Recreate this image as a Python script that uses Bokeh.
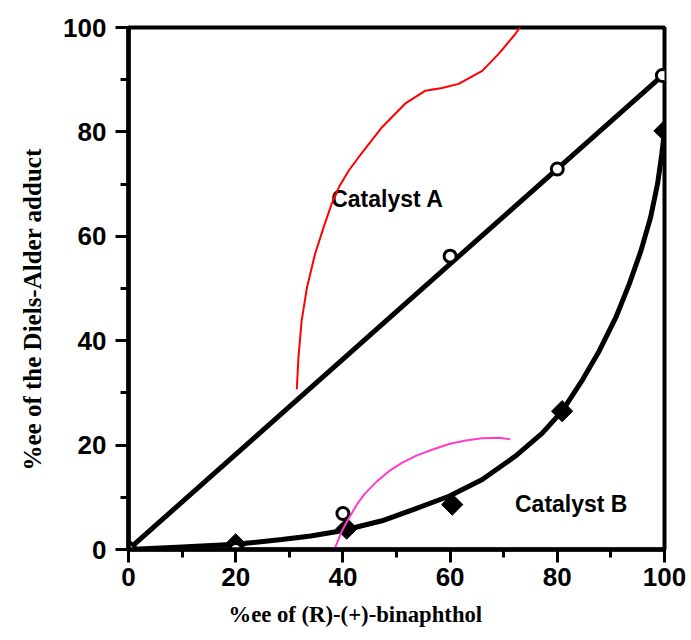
from bokeh.plotting import figure
from bokeh.models import Range1d, SingleIntervalTicker, Title
from bokeh.core.properties import value
from bokeh.embed import file_html
from bokeh.resources import INLINE
import math

# ---- data ----
cat_a_x = [0, 20, 40, 60, 80, 99.6]
cat_a_y = [0, 0, 6.9, 56.2, 72.9, 90.8]
fit_a_x = [0, 99.6]
fit_a_y = [0, 90.8]

cat_b_x = [0, 20, 40.7, 60.4, 80.9, 100]
cat_b_y = [0, 1.0, 4.0, 8.6, 26.5, 80.2]
fit_b_x = [0, 10, 20, 28.6, 34, 39.8, 47.3, 53.5, 59.8, 66.0, 72.2, 77.2, 80.9,
           84.7, 87.8, 90.9, 93.4, 95.6, 97.4, 98.7, 99.5, 100]
fit_b_y = [0, 0.5, 1.0, 1.9, 2.6, 3.6, 5.5, 7.8, 10.2, 13.4, 17.9, 22.3, 26.5,
           32.5, 38.0, 44.4, 50.8, 57.2, 63.6, 70.0, 75.8, 80.2]

red_x = [31.4, 31.7, 32.3, 33.3, 34.8, 36.4, 37.9, 39.4, 41.1, 42.9, 47.3, 51.6,
         55.4, 58.5, 61.6, 66.0, 69.1, 72.2, 73.5, 75.9]
red_y = [30.7, 36.7, 43.8, 50.2, 56.6, 61.7, 66.2, 69.7, 72.6, 75.1, 80.9, 85.4,
         87.9, 88.4, 89.2, 91.7, 95.0, 98.8, 100.7, 105.2]
pink_x = [71.2, 69.1, 66.0, 62.9, 59.8, 56.6, 53.5, 51.0, 48.6, 46.4, 44.1, 42.6,
          41.1, 39.8, 38.5, 36.6]
pink_y = [21.1, 21.4, 21.3, 20.9, 20.2, 19.1, 17.9, 16.6, 15.0, 13.1, 10.7, 8.6,
          6.0, 3.5, 0.2, -4.8]

label_a = "Catalyst A"
label_b = "Catalyst B"
x_title = "%ee of (R)-(+)-binaphthol"
y_title = "%ee of the Diels-Alder adduct"

p = figure(width=691, height=640,
           x_range=Range1d(0, 100), y_range=Range1d(0, 100),
           output_backend="svg", toolbar_location=None,
           min_border_left=128, min_border_right=27,
           min_border_top=27, min_border_bottom=91)

p.background_fill_color = "white"
p.border_fill_color = "white"
p.outline_line_color = "black"
p.outline_line_width = 4
p.grid.visible = False

for ax in (p.xaxis[0], p.yaxis[0]):
    ax.ticker = SingleIntervalTicker(interval=20, num_minor_ticks=2)
    ax.axis_line_width = 4.5
    ax.axis_line_color = "black"
    ax.major_tick_in = 0
    ax.major_tick_out = 13
    ax.minor_tick_in = 0
    ax.minor_tick_out = 8
    ax.major_tick_line_width = 3
    ax.minor_tick_line_width = 3
    ax.major_tick_line_color = "black"
    ax.minor_tick_line_color = "black"
    ax.major_label_text_font = "Liberation Sans"
    ax.major_label_text_font_style = "bold"
    ax.major_label_text_font_size = "26px"
    ax.major_label_text_color = "black"

p.xaxis.major_label_standoff = 5
p.yaxis.major_label_standoff = 9

# axis titles, placed off-centre as in the original
xt = Title(text=x_title, align="left", offset=100, standoff=22,
           text_font="Liberation Serif", text_font_style="bold",
           text_font_size="22.7px", text_color="black")
p.add_layout(xt, "below")
yt = Title(text=y_title, align="left", offset=79, standoff=30,
           text_font="Liberation Serif", text_font_style="bold",
           text_font_size="25px", text_color="black")
p.add_layout(yt, "left")

# fitted curves
p.line(fit_a_x, fit_a_y, line_color="black", line_width=5, line_cap="round", line_join="round")
p.line(fit_b_x, fit_b_y, line_color="black", line_width=5, line_cap="round", line_join="round")

# markers
p.scatter(cat_b_x, cat_b_y, marker="square", size=15, angle=math.pi / 4,
          fill_color="black", line_color="black", line_width=1)
p.scatter(cat_a_x, cat_a_y, marker="circle", size=12,
          fill_color="white", line_color="black", line_width=3)

# labels
p.text(x=[48.3], y=[67.2], text=[label_a], text_align="center", text_baseline="middle",
       text_font=value("Liberation Sans"), text_font_style="bold", text_font_size="23px",
       text_color="black")
p.text(x=[82.6], y=[8.8], text=[label_b], text_align="center", text_baseline="middle",
       text_font=value("Liberation Sans"), text_font_style="bold", text_font_size="23px",
       text_color="black")

# hand-drawn annotation strokes
p.line(red_x, red_y, line_color="#ff0000", line_width=2, line_join="round")
p.line(pink_x, pink_y, line_color="#ff3cc8", line_width=2, line_join="round")

open("out.html", "w").write(file_html(p, INLINE))
